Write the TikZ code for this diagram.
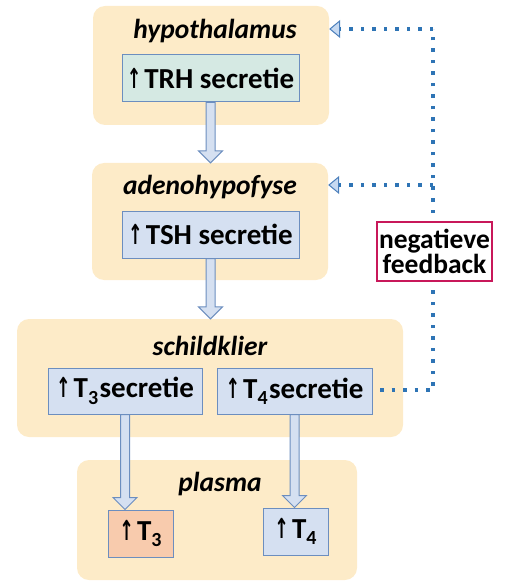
\documentclass[tikz,border=0pt]{standalone}
\usepackage{fontspec}
\usepackage{graphicx}
\setmainfont{Carlito}
\newfontfamily\arrfont{DejaVu Sans}
\usetikzlibrary{arrows.meta,calc}
\definecolor{panelc}{HTML}{FDEBC8}
\definecolor{teal}{HTML}{D5E9E3}
\definecolor{boxblue}{HTML}{D5E0F1}
\definecolor{salmon}{HTML}{F8CBAD}
\definecolor{edgeblue}{HTML}{6C8EBF}
\definecolor{dotblue}{HTML}{2E74B5}
\definecolor{tipfill}{HTML}{C6D9F1}
\definecolor{tipline}{HTML}{4A7EBB}
\definecolor{crimson}{HTML}{C8185A}
\newcommand\upar{{\arrfont\scalebox{0.6}[0.95]{↑}}\kern3pt}
\newcommand\lowsub[1]{\raisebox{-0.22em}{\fontsize{20}{20}\selectfont #1}}
\tikzset{
  panel/.style={fill=panelc, draw=none, rounded corners=12pt, inner sep=0pt},
  lbl/.style={font=\fontsize{27.5}{30}\selectfont\bfseries\itshape, inner sep=0pt},
  sbox/.style={draw=edgeblue, line width=1pt, inner sep=0pt, font=\fontsize{29}{32}\selectfont\bfseries},
  barrow/.style={fill=boxblue, draw=edgeblue, line width=1pt, line join=miter},
  fb/.style={draw=dotblue, line width=3.5pt, dash pattern=on 3.5pt off 8pt, line cap=butt},
  fbtip/.style={-{Triangle[length=11pt, width=18pt, line width=1pt, color=tipline, fill=tipfill]}},
  fbbox/.style={draw=crimson, line width=1.8pt, fill=white, inner sep=0pt, align=center,
    font=\fontsize{27.5}{27}\selectfont\bfseries}
}
\newcommand\blockarrow[2]{%
  \filldraw[barrow] let \p1=(#1), \p2=(#2) in
    (\x1-4.5pt,\y1) -- (\x1-4.5pt,\y2+12pt) -- (\x1-12pt,\y2+12pt) -- (\x1,\y2)
    -- (\x1+12pt,\y2+12pt) -- (\x1+4.5pt,\y2+12pt) -- (\x1+4.5pt,\y1) -- cycle;}
\begin{document}
\begin{tikzpicture}[x=1pt,y=-1pt]
\useasboundingbox (0,0) rectangle (507,585);
% panels
\node[panel, minimum width=236pt, minimum height=119pt] (p1) at (211,65.5) {};
\node[panel, minimum width=236pt, minimum height=117pt] (p2) at (210,221.5) {};
\node[panel, minimum width=386pt, minimum height=118pt] (p3) at (210,378) {};
\node[panel, minimum width=280pt, minimum height=120pt] (p4) at (217,520) {};
% labels
\node[lbl] (l1) at (215,31) {hypothalamus};
\node[lbl] (l2) at (210,187) {adenohypofyse};
\node[lbl] (l3) at (210,346) {schildklier};
\node[lbl] (l4) at (220,484) {plasma};
% boxes
\node[sbox, fill=teal, minimum width=177pt, minimum height=47pt] (trh) at (210.5,78.5) {\upar TRH secretie};
\node[sbox, fill=boxblue, minimum width=177pt, minimum height=47pt] (tsh) at (210.5,234.5) {\upar TSH secretie};
\node[sbox, fill=boxblue, minimum width=154pt, minimum height=46pt] (t3s) at (125,391) {\upar T\lowsub{3}\kern1.5pt secretie};
\node[sbox, fill=boxblue, minimum width=155pt, minimum height=46pt] (t4s) at (294.5,391) {\upar T\lowsub{4}\kern1.5pt secretie};
\node[sbox, fill=salmon, minimum width=65pt, minimum height=47pt] (t3) at (140.5,533.5) {\upar T\lowsub{3}};
\node[sbox, fill=boxblue, minimum width=65pt, minimum height=47pt] (t4) at (295.5,531.5) {\upar T\lowsub{4}};
% block arrows
\blockarrow{trh.south}{trh.south |- p2.north}
\blockarrow{tsh.south}{tsh.south |- p3.north}
\blockarrow{t3s.south}{t3s.south |- t3.north}
\blockarrow{t4s.south}{t4s.south |- t4.north}
% feedback
\coordinate (k1) at (433,29);
\coordinate (k2) at (433,185);
\coordinate (s0) at (380,390);
\draw[fb] (s0) -| (k1);
\draw[fb, fbtip] (k1) -- (k1 -| p1.east);
\draw[fb, fbtip] (k2) -- (k2 -| p2.east);
\node[fbbox, minimum width=115pt, minimum height=59pt] (neg) at (434.5,251.5) {negatieve\\[-2pt]feedback};
\end{tikzpicture}
\end{document}
